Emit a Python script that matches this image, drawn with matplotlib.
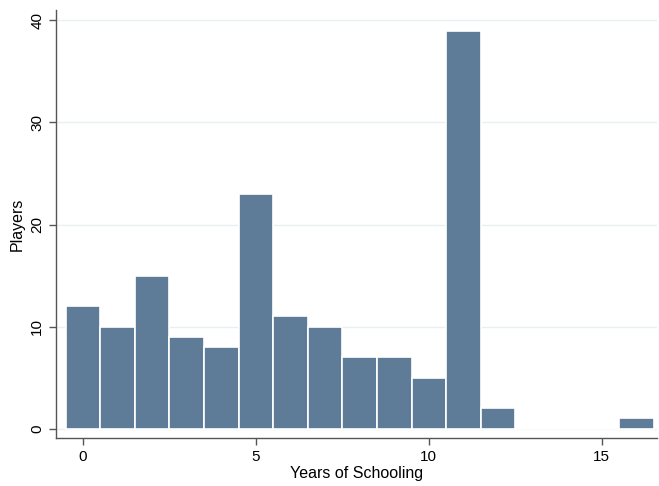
import matplotlib
matplotlib.use("Agg")
import matplotlib.pyplot as plt

years = [0, 1, 2, 3, 4, 5, 6, 7, 8, 9, 10, 11, 12, 13, 14, 15, 16]
players = [12, 10, 15, 9, 8, 23, 11, 10, 7, 7, 5, 39, 2, 0, 0, 0, 1]
xticks = [0, 5, 10, 15]
yticks = [0, 10, 20, 30, 40]

plt.rcParams['font.family'] = ['Liberation Sans', 'DejaVu Sans']

fig = plt.figure(figsize=(6.59, 4.86), dpi=100)
ax = fig.add_axes([0.085, 0.099, 0.912, 0.88])

ax.bar(years, players, width=1.0, color='#5e7c98', edgecolor='white', linewidth=1.2, zorder=3)

ax.set_xlim(-0.78, 16.6)
ax.set_ylim(-0.9, 41)
ax.set_xticks(xticks)
ax.set_yticks(yticks)
ax.set_yticklabels([str(v) for v in yticks], rotation=90, va='center')
for y in yticks:
    ax.axhline(y, color='#e8f0f2', linewidth=1.0, zorder=1)

for s in ['top', 'right']:
    ax.spines[s].set_visible(False)
for s in ['left', 'bottom']:
    ax.spines[s].set_color('#555555')
    ax.spines[s].set_linewidth(1.0)
ax.tick_params(axis='both', colors='#555555', labelcolor='black', length=5, width=1, labelsize=11)

ax.set_xlabel('Years of Schooling', fontsize=11.5, labelpad=2)
ax.set_ylabel('Players', fontsize=11.5, labelpad=4)

fig.savefig('out.png', dpi=100)
